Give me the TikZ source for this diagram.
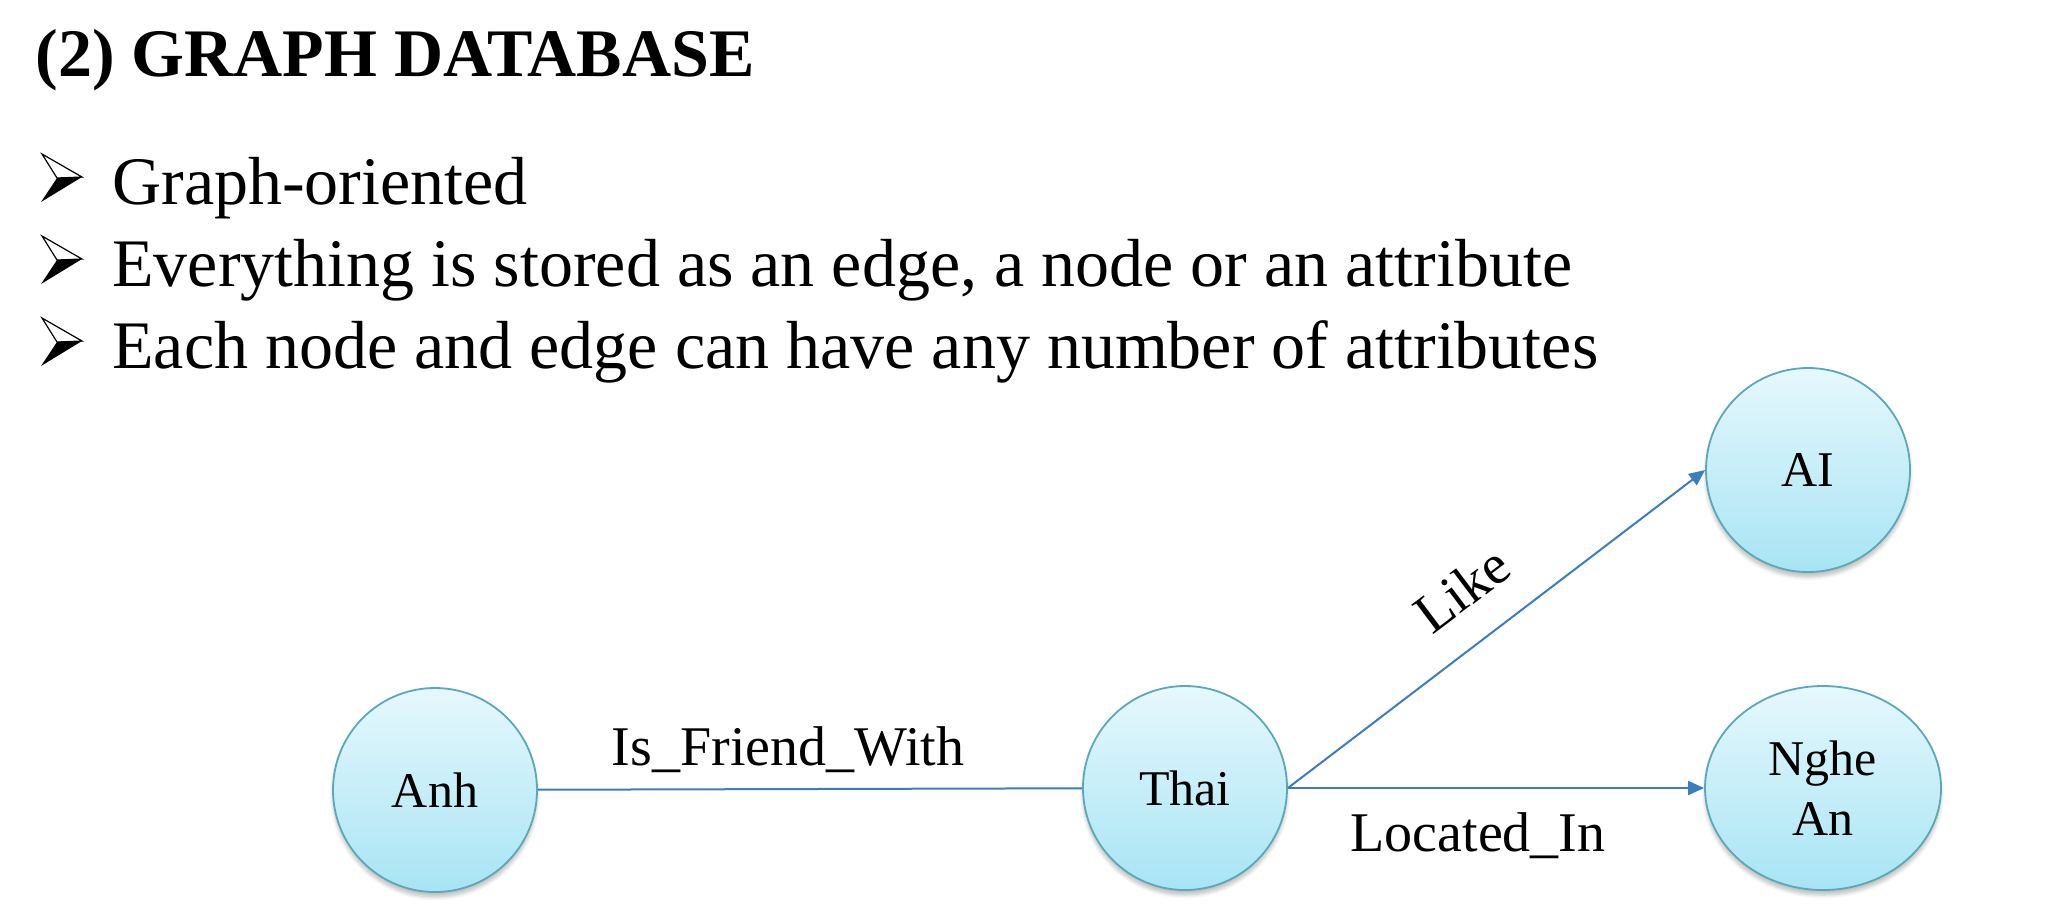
\documentclass[tikz,border=0pt]{standalone}
\usepackage{fontspec}
\setmainfont{Liberation Serif}
\usetikzlibrary{shapes.geometric,arrows.meta,shadows.blur}
\definecolor{edgeblue}{HTML}{3B7DBE}
\definecolor{nodeborder}{HTML}{5AA8B8}
\definecolor{nodetop}{HTML}{E6F8FD}
\definecolor{nodebot}{HTML}{A8E4F4}
\tikzset{
  gnode/.style={ellipse, draw=nodeborder, line width=0.9pt, inner sep=0pt,
    top color=nodetop, bottom color=nodebot, minimum width=102pt, minimum height=102pt,
    font=\fontsize{25}{30}\selectfont, align=center,
    blur shadow={shadow xshift=0pt, shadow yshift=-2.5pt, shadow opacity=25, shadow blur steps=6}},
  gedge/.style={draw=edgeblue, line width=1pt},
  garrow/.style={gedge, -{Triangle[length=8pt,width=7pt]}},
  elabel/.style={font=\fontsize{28}{33}\selectfont, inner sep=0pt},
  btext/.style={font=\fontsize{34}{41}\selectfont, anchor=base west, inner sep=0pt},
  pics/barrow/.style={code={
    \draw[line width=0.6pt, fill=white, line join=miter] (0,-24) -- (40,-1) -- (15,0) -- cycle;
    \fill[black] (15,0) -- (40,-1) -- (-1,24) -- cycle;
  }}
}
\begin{document}
\begin{tikzpicture}[x=0.5pt,y=-0.5pt]
\useasboundingbox (0,0) rectangle (2060,918);
% title
\node[anchor=base west, inner sep=0pt, font=\fontsize{34}{41}\selectfont\bfseries] (title) at (35,76) {(2) GRAPH DATABASE};
% bullets
\pic (b1) at (42,178) {barrow};
\pic (b2) at (42,260) {barrow};
\pic (b3) at (42,342) {barrow};
\node[btext] (t1) at (112,204) {Graph-oriented};
\node[btext] (t2) at (112,286) {Everything is stored as an edge, a node or an attribute};
\node[btext] (t3) at (112,368) {Each node and edge can have any number of attributes};
% graph nodes
\node[gnode] (anh) at (435,790) {Anh};
\node[gnode] (thai) at (1185,788) {Thai};
\node[gnode] (ai) at (1808,470) {AI};
\node[gnode, minimum width=118pt] (nghe) at (1823,788) {Nghe\\An};
% edges
\draw[gedge] (anh) -- (thai);
\draw[garrow] (thai.east) -- (ai.west);
\draw[garrow] (thai.east) -- (nghe.west);
% labels
\node[elabel, anchor=base] (lfriend) at (788,765) {Is\_Friend\_With};
\node[elabel, anchor=base] (lloc) at (1478,851) {Located\_In};
\node[elabel, rotate=37] (llike) at (1462,589) {Like};
\end{tikzpicture}
\end{document}
